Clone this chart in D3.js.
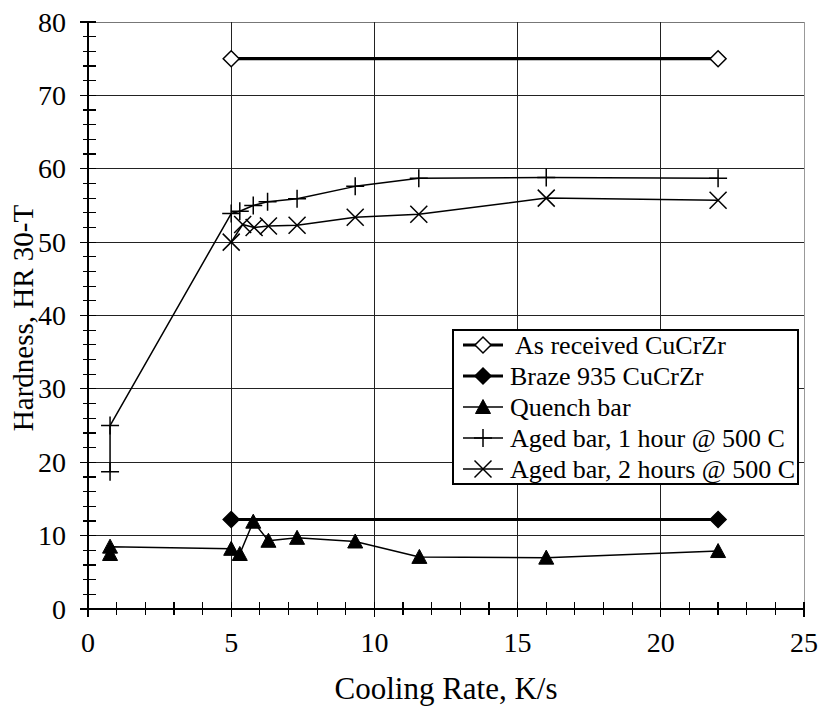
<!DOCTYPE html>
<html>
<head>
<meta charset="utf-8">
<script src="https://cdn.jsdelivr.net/npm/d3@7"></script>
<style>
  html, body { margin: 0; padding: 0; background: #fff; }
  svg { display: block; }
</style>
</head>
<body>
<div id="chart"></div>
<script>
// ── Data ──────────────────────────────────────────────────────
var xTicks = [0, 5, 10, 15, 20, 25];
var yTicks = [0, 10, 20, 30, 40, 50, 60, 70, 80];

var asReceivedX = [5, 22];
var asReceivedY = [75, 75];

var brazeX = [5, 22];
var brazeY = [12.2, 12.2];

var quenchX = [0.77, 0.77, 5, 5.3, 5.77, 6.3, 7.3, 9.33, 11.57, 16, 22];
var quenchY = [7.5, 8.5, 8.2, 7.5, 11.9, 9.3, 9.7, 9.2, 7.1, 7.0, 7.9];

var aged1X = [0.77, 0.77, 5, 5.3, 5.77, 6.27, 7.3, 9.33, 11.55, 16, 22];
var aged1Y = [18.7, 25, 53.9, 54.2, 55.0, 55.5, 55.9, 57.6, 58.7, 58.8, 58.7];

var aged2X = [5, 5.4, 5.8, 6.3, 7.3, 9.33, 11.55, 16, 22];
var aged2Y = [50.0, 52.4, 52.0, 52.2, 52.3, 53.4, 53.8, 56.0, 55.7];

var legendLabels = [
  ' As received CuCrZr',
  'Braze 935 CuCrZr',
  'Quench bar',
  'Aged bar, 1 hour @ 500 C',
  'Aged bar, 2 hours @ 500 C'
];

function zip(xs, ys) {
  return xs.map(function(x, i) { return { x: x, y: ys[i] }; });
}

var series = [
  { name: legendLabels[0], pts: zip(asReceivedX, asReceivedY), marker: 'diamondOpen', width: 3.2 },
  { name: legendLabels[1], pts: zip(brazeX, brazeY),           marker: 'diamond',     width: 3.2 },
  { name: legendLabels[2], pts: zip(quenchX, quenchY),         marker: 'triangle',    width: 1.5 },
  { name: legendLabels[3], pts: zip(aged1X, aged1Y),           marker: 'plus',        width: 1.5 },
  { name: legendLabels[4], pts: zip(aged2X, aged2Y),           marker: 'cross',       width: 1.5 }
];

// ── Layout ────────────────────────────────────────────────────
var W = 821, H = 709;
var FONT = '"Liberation Serif", "Times New Roman", serif';
var PL = 88, PR = 804, PT = 22, PB = 609;

var x = d3.scaleLinear().domain([0, 25]).range([PL, PR]);
var y = d3.scaleLinear().domain([0, 80]).range([PB, PT]);

var svg = d3.select('#chart').append('svg')
  .attr('width', W)
  .attr('height', H);

// ── Grid ──────────────────────────────────────────────────────
var grid = svg.append('g').attr('class', 'grid')
  .attr('stroke-width', 1)
  .attr('shape-rendering', 'crispEdges');

grid.selectAll('.hgrid')
  .data(yTicks.filter(function(d) { return d > 0; }))
  .enter().append('line')
  .attr('x1', PL).attr('x2', PR)
  .attr('y1', function(d) { return y(d); })
  .attr('y2', function(d) { return y(d); })
  .attr('stroke', function(d) { return d === 80 ? '#777' : '#222'; });

grid.selectAll('.vgrid')
  .data(xTicks.filter(function(d) { return d > 0; }))
  .enter().append('line')
  .attr('y1', PT).attr('y2', PB)
  .attr('x1', function(d) { return x(d); })
  .attr('x2', function(d) { return x(d); })
  .attr('stroke', function(d) { return d === 25 ? '#999' : '#222'; });

// ── Axes (ticks crossing the axis lines) ──────────────────────
var yAxis = svg.append('g').attr('class', 'y-axis')
  .attr('stroke', '#000').attr('shape-rendering', 'crispEdges');

yAxis.append('line')
  .attr('x1', PL).attr('x2', PL)
  .attr('y1', PT).attr('y2', PB)
  .attr('stroke-width', 1.5);

yAxis.selectAll('.minor')
  .data(d3.range(0, 81, 2))
  .enter().append('line')
  .attr('x1', function(d) { return d % 10 === 0 ? PL - 8 : PL - 5; })
  .attr('x2', PL + 8)
  .attr('y1', function(d) { return y(d); })
  .attr('y2', function(d) { return y(d); })
  .attr('stroke-width', 1.2);

var xAxis = svg.append('g').attr('class', 'x-axis')
  .attr('stroke', '#000').attr('shape-rendering', 'crispEdges');

xAxis.append('line')
  .attr('x1', PL).attr('x2', PR)
  .attr('y1', PB).attr('y2', PB)
  .attr('stroke-width', 1.5);

xAxis.selectAll('.minor')
  .data(d3.range(0, 26, 1))
  .enter().append('line')
  .attr('x1', function(d) { return x(d); })
  .attr('x2', function(d) { return x(d); })
  .attr('y1', PB - 7)
  .attr('y2', function(d) { return d % 5 === 0 ? PB + 8 : PB + 6; })
  .attr('stroke-width', 1.2);

// tick labels
svg.append('g').selectAll('text')
  .data(yTicks)
  .enter().append('text')
  .attr('x', 66)
  .attr('y', function(d) { return y(d) + 9.5; })
  .attr('text-anchor', 'end')
  .attr('font-family', FONT)
  .attr('font-size', '28px')
  .attr('fill', '#000')
  .text(function(d) { return d; });

svg.append('g').selectAll('text')
  .data(xTicks)
  .enter().append('text')
  .attr('x', function(d) { return x(d); })
  .attr('y', 652)
  .attr('text-anchor', 'middle')
  .attr('font-family', FONT)
  .attr('font-size', '28px')
  .attr('fill', '#000')
  .text(function(d) { return d; });

// axis titles
svg.append('text')
  .attr('x', (PL + PR) / 2)
  .attr('y', 699)
  .attr('text-anchor', 'middle')
  .attr('font-family', FONT)
  .attr('font-size', '31px')
  .text('Cooling Rate, K/s');

svg.append('text')
  .attr('transform', 'translate(33,318) rotate(-90)')
  .attr('text-anchor', 'middle')
  .attr('font-family', FONT)
  .attr('font-size', '29px')
  .text('Hardness, HR 30-T');

// ── Marker helper ─────────────────────────────────────────────
function drawMarker(sel, type, cx, cy) {
  if (type === 'diamond' || type === 'diamondOpen') {
    sel.append('path')
      .attr('d', 'M ' + cx + ' ' + (cy - 8) + ' L ' + (cx + 8) + ' ' + cy +
                 ' L ' + cx + ' ' + (cy + 8) + ' L ' + (cx - 8) + ' ' + cy + ' Z')
      .attr('fill', type === 'diamond' ? '#000' : '#fff')
      .attr('stroke', '#000')
      .attr('stroke-width', 1.5);
  } else if (type === 'triangle') {
    sel.append('path')
      .attr('d', 'M ' + cx + ' ' + (cy - 7.5) + ' L ' + (cx + 7.5) + ' ' + (cy + 6.5) +
                 ' L ' + (cx - 7.5) + ' ' + (cy + 6.5) + ' Z')
      .attr('fill', '#000')
      .attr('stroke', '#000')
      .attr('stroke-width', 1);
  } else if (type === 'plus') {
    sel.append('path')
      .attr('d', 'M ' + (cx - 9) + ' ' + cy + ' L ' + (cx + 9) + ' ' + cy +
                 ' M ' + cx + ' ' + (cy - 9) + ' L ' + cx + ' ' + (cy + 9))
      .attr('fill', 'none')
      .attr('stroke', '#000')
      .attr('stroke-width', 1.5);
  } else if (type === 'cross') {
    sel.append('path')
      .attr('d', 'M ' + (cx - 8.5) + ' ' + (cy - 8.5) + ' L ' + (cx + 8.5) + ' ' + (cy + 8.5) +
                 ' M ' + (cx + 8.5) + ' ' + (cy - 8.5) + ' L ' + (cx - 8.5) + ' ' + (cy + 8.5))
      .attr('fill', 'none')
      .attr('stroke', '#000')
      .attr('stroke-width', 1.5);
  }
}

// ── Series ────────────────────────────────────────────────────
var line = d3.line()
  .x(function(d) { return x(d.x); })
  .y(function(d) { return y(d.y); });

var plot = svg.append('g').attr('class', 'series');

series.forEach(function(s) {
  var g = plot.append('g');
  g.append('path')
    .datum(s.pts)
    .attr('d', line)
    .attr('fill', 'none')
    .attr('stroke', '#000')
    .attr('stroke-width', s.width)
    .attr('stroke-linejoin', 'round');
  s.pts.forEach(function(p) {
    drawMarker(g, s.marker, x(p.x), y(p.y));
  });
});

// ── Legend ────────────────────────────────────────────────────
var legX = 453, legY = 330, legW = 345, legH = 154;
var legend = svg.append('g').attr('class', 'legend');

legend.append('rect')
  .attr('x', legX).attr('y', legY)
  .attr('width', legW).attr('height', legH)
  .attr('fill', '#fff')
  .attr('stroke', '#000')
  .attr('stroke-width', 1.2)
  .attr('shape-rendering', 'crispEdges');

series.forEach(function(s, i) {
  var ry = legY + 15 + i * 31;
  var row = legend.append('g');
  row.append('line')
    .attr('x1', legX + 10).attr('x2', legX + 50)
    .attr('y1', ry).attr('y2', ry)
    .attr('stroke', '#000')
    .attr('stroke-width', s.width);
  drawMarker(row, s.marker, legX + 30, ry);
  row.append('text')
    .attr('x', legX + 57)
    .attr('y', ry + 8.5)
    .attr('font-family', FONT)
    .attr('font-size', '26px')
    .attr('xml:space', 'preserve')
    .style('white-space', 'pre')
    .text(s.name);
});
</script>
</body>
</html>
